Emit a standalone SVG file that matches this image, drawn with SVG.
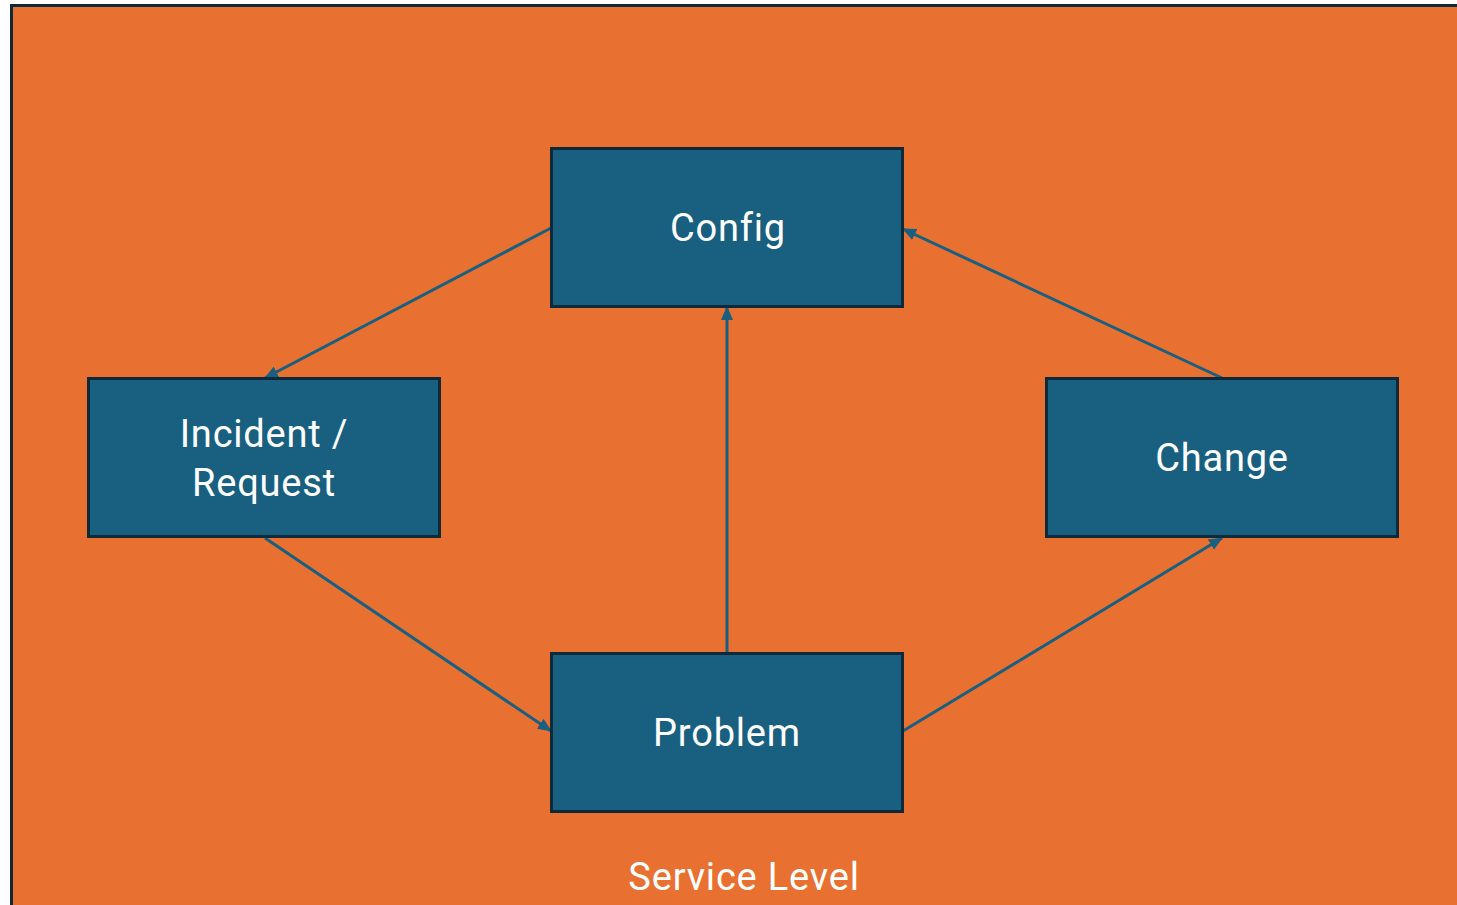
<svg xmlns="http://www.w3.org/2000/svg" width="1457" height="905" viewBox="0 0 1457 905">
<style>
.node rect{fill:#185f80;stroke:#0e2a3a;stroke-width:3}
.lbl{font-family:Roboto,"Open Sans",sans-serif;font-size:38px;letter-spacing:0.8px;fill:#ffffff;text-anchor:middle}
.edge{stroke:#185f80;stroke-width:3;fill:none;marker-end:url(#ah)}
</style>
<defs>
<marker id="ah" markerWidth="14" markerHeight="12" refX="13" refY="6" orient="auto" markerUnits="userSpaceOnUse" viewBox="0 0 14 12">
<path d="M0,0 L14,6 L0,12 z" fill="#185f80"/>
</marker>
</defs>
<rect width="1457" height="905" fill="#ffffff"/>
<g id="container">
<rect x="11.5" y="5.5" width="1460" height="920" fill="#e87132" stroke="#0e2a3a" stroke-width="3"/>
<text class="lbl" x="744" y="890">Service Level</text>
</g>
<g id="connectors">
<path class="edge" d="M551,228 L265,378"/>
<path class="edge" d="M265,538 L551,731"/>
<path class="edge" d="M727,652 L727,307"/>
<path class="edge" d="M903,731 L1222,538"/>
<path class="edge" d="M1222,378 L903,229"/>
</g>
<g id="config" class="node">
<rect x="551.5" y="148.5" width="351" height="158"/>
<text class="lbl" x="728" y="241">Config</text>
</g>
<g id="incident" class="node">
<rect x="88.5" y="378.5" width="351" height="158"/>
<text class="lbl" x="264" y="447">Incident /</text>
<text class="lbl" x="264" y="496">Request</text>
</g>
<g id="change" class="node">
<rect x="1046.5" y="378.5" width="351" height="158"/>
<text class="lbl" x="1222" y="471">Change</text>
</g>
<g id="problem" class="node">
<rect x="551.5" y="653.5" width="351" height="158"/>
<text class="lbl" x="727" y="746">Problem</text>
</g>
</svg>
